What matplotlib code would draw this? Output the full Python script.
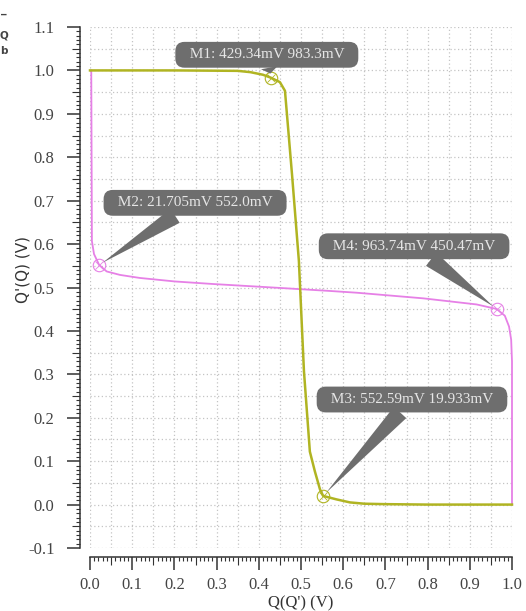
import numpy as np
import matplotlib
matplotlib.use("Agg")
import matplotlib.pyplot as plt

plt.rcParams['font.family'] = ['Liberation Serif', 'DejaVu Sans']

# ---- data ----
q_green = [0.0, 0.2, 0.35, 0.38, 0.41, 0.429, 0.45, 0.462, 0.479, 0.495, 0.507,
           0.521, 0.533, 0.545, 0.5526, 0.584, 0.616, 0.65, 0.7, 0.8, 0.9, 1.0]
v_green = [1.0, 1.0, 0.999, 0.996, 0.99, 0.983, 0.973, 0.953, 0.757, 0.561, 0.307,
           0.122, 0.076, 0.035, 0.0199, 0.012, 0.005, 0.002, 0.001, 0.0, 0.0, 0.0]

q_pink = [0.003, 0.0045, 0.0095, 0.0217, 0.0395, 0.071, 0.118, 0.2, 0.292, 0.45,
          0.569, 0.632, 0.79, 0.916, 0.9637, 0.983, 0.993, 0.998, 1.0, 1.0]
v_pink = [1.0, 0.607, 0.577, 0.552, 0.537, 0.529, 0.522, 0.514, 0.508, 0.499,
          0.492, 0.488, 0.475, 0.461, 0.4505, 0.435, 0.41, 0.38, 0.33, 0.0]

marker_x = [0.42934, 0.021705, 0.55259, 0.96374]
marker_y = [0.9833, 0.5520, 0.019933, 0.45047]
marker_labels = ["M1: 429.34mV 983.3mV", "M2: 21.705mV 552.0mV",
                 "M3: 552.59mV 19.933mV", "M4: 963.74mV 450.47mV"]
label_pos_x = [0.419, 0.249, 0.763, 0.768]
label_pos_y = [1.036, 0.695, 0.242, 0.595]

x_ticks = [0.0, 0.1, 0.2, 0.3, 0.4, 0.5, 0.6, 0.7, 0.8, 0.9, 1.0]
y_ticks = [-0.1, 0.0, 0.1, 0.2, 0.3, 0.4, 0.5, 0.6, 0.7, 0.8, 0.9, 1.0, 1.1]

green = '#b0b422'
pink = '#e680e6'
box_c = '#6e6e6e'

fig = plt.figure(figsize=(5.26, 6.11), dpi=100)
W, H = 526, 611
ax = fig.add_axes([90 / W, (H - 548) / H, 422 / W, 521 / H])
ax.set_xlim(0, 1)
ax.set_ylim(-0.1, 1.1)

# grid every 0.05
for g in np.arange(0, 1.0001, 0.05):
    ax.axvline(g, color='#c4c4c4', lw=0.9, ls=(0, (1, 2)), zorder=0)
for g in np.arange(-0.1, 1.1001, 0.05):
    ax.axhline(g, color='#c4c4c4', lw=0.9, ls=(0, (1, 2)), zorder=0)

ax.plot(q_pink, v_pink, color=pink, lw=1.3, zorder=3, clip_on=False)
ax.plot(q_green, v_green, color=green, lw=1.8, zorder=4, clip_on=False)

mcols = [green, pink, green, pink]
for mx, my, c in zip(marker_x, marker_y, mcols):
    ax.plot([mx], [my], marker='o', ms=9, mfc='none', mec=c, mew=0.8, zorder=6)
    ax.plot([mx], [my], marker='x', ms=5.5, mec=c, mew=0.6, zorder=6)

for lab, mx, my, tx, ty in zip(marker_labels, marker_x, marker_y, label_pos_x, label_pos_y):
    ax.annotate("  " + lab + "  ", xy=(mx, my), xytext=(tx, ty), textcoords='data',
                ha='center', va='center', fontsize=11, color='#e6e6e6',
                family=['Liberation Serif'],
                bbox=dict(boxstyle='round,pad=0.42,rounding_size=0.6', fc=box_c, ec='none'),
                arrowprops=dict(arrowstyle='wedge,tail_width=1.1,shrink_factor=0.5',
                                fc=box_c, ec='none', shrinkA=0, shrinkB=3),
                annotation_clip=False, zorder=7)

# spines
for s in ['top', 'right']:
    ax.spines[s].set_visible(False)
ax.spines['left'].set_position(('outward', 7.2))
ax.spines['bottom'].set_position(('outward', 6.5))
ax.spines['left'].set_bounds(-0.1, 1.1)
ax.spines['bottom'].set_bounds(0, 1)
for s in ['left', 'bottom']:
    ax.spines[s].set_color('#333333')
    ax.spines[s].set_linewidth(1.1)

ax.set_xticks(x_ticks)
ax.set_yticks(y_ticks)
ax.set_xticklabels([f"{t:.1f}" for t in x_ticks])
ax.set_yticklabels([f"{t:.1f}" for t in y_ticks])
xminor = [i / 100 for i in range(0, 101) if i % 10 != 0]
yminor = [i / 100 for i in range(-10, 111) if i % 10 != 0]
ax.set_xticks(xminor, minor=True)
ax.set_yticks(yminor, minor=True)
ax.tick_params(which='major', length=9.4, width=1.1, color='#333333',
               labelsize=12, labelcolor='#444444')
ax.tick_params(axis='y', which='major', pad=9)
ax.tick_params(axis='x', which='major', pad=5)
ax.tick_params(which='minor', length=2.6, width=0.8, color='#333333')

ax.set_xlabel("Q(Q') (V)", fontsize=12, color='#333333')
ax.xaxis.set_label_coords(0.5, -0.091)
ax.xaxis.label.set_va('top')
ax.set_ylabel("Q'(Q) (V)", fontsize=11, color='#333333', family=['DejaVu Sans'])
ax.yaxis.set_label_coords(-0.158, 0.534)
ax.yaxis.label.set_va('center')

# stray label at top-left
fig.text(4 / W, 1 - 19 / H, "\u203e", fontsize=8, color='#444444', ha='center', va='center',
         family=['DejaVu Sans'], weight='bold')
fig.text(4 / W, 1 - 36 / H, "Q", fontsize=7.5, color='#444444', ha='center', va='center',
         family=['DejaVu Sans'], weight='bold')
fig.text(4 / W, 1 - 51 / H, "b", fontsize=7.5, color='#444444', ha='center', va='center',
         family=['DejaVu Sans'], weight='bold')

fig.canvas.draw()
for axis in (ax.xaxis, ax.yaxis):
    for t in axis.get_minor_ticks():
        loc = t.get_loc()
        if abs(round(loc * 100) % 10) == 5:
            t.tick1line.set_markersize(5.8)

fig.savefig('out.png', dpi=100)
